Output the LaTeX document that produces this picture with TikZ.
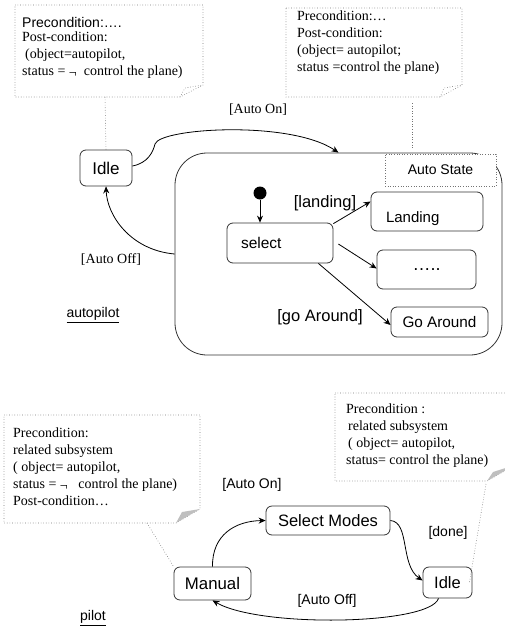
\documentclass[tikz,border=0pt]{standalone}
\usepackage{fontspec}
\setmainfont{Liberation Serif}
\setsansfont{Liberation Sans}
\usetikzlibrary{arrows.meta,calc}
\tikzset{
 st/.style={draw=black!80, line width=0.8pt, rounded corners=6pt, inner sep=0pt},
 lbl/.style={font=\fontsize{14}{17}\selectfont, inner sep=0pt},
 slbl/.style={font=\sffamily\fontsize{14}{17}\selectfont, inner sep=0pt},
 note/.style={draw=black!55, dotted, line width=0.6pt},
 notefold/.style={fill=black!25, draw=none},
 notetext/.style={font=\fontsize{14}{17}\selectfont, align=left, anchor=north west, inner sep=0pt},
 tr/.style={draw=black, line width=0.8pt, -{Stealth[length=7pt,width=6pt]}},
 link/.style={draw=black!55, dotted, line width=0.6pt},
}
\begin{document}
\begin{tikzpicture}[x=1pt,y=-1pt]
\useasboundingbox (0,0) rectangle (505,627);

% ---------- top-left note
\draw[note] (15,5) -- (203,5) -- (203,85) -- (180,97) -- (15,97) -- cycle;
\draw[note] (180,97) -- (185,88) -- (203,85);
\node[notetext] (n1) at (22,17) {{\sffamily Precondition:….}\\[-3pt] Post-condition:\\ \hspace{3pt}(object=autopilot,\\ status = \raisebox{-2pt}{¬} \ control the plane)};

% ---------- top-right note
\draw[note] (286,8) -- (462,8) -- (462,85) -- (440,97) -- (286,97) -- cycle;
\draw[note] (440,97) -- (444,88) -- (462,85);
\node[notetext] (n2) at (297,10.5) {Precondition:…\\ Post-condition:\\ (object= autopilot;\\ status =control the plane)};

% ---------- autopilot machine
\node[st, minimum width=52pt, minimum height=36pt, font=\sffamily\fontsize{17}{18}\selectfont] (idle1) at (106,168) {Idle};
\node[draw=black!80, line width=0.8pt, rounded corners=32pt, minimum width=327pt, minimum height=202pt] (auto) at (338.5,254) {};
\node[draw=black!55, dotted, line width=0.6pt, fill=white, minimum width=111pt, minimum height=32pt, inner sep=0pt, font=\sffamily\fontsize{14}{16}\selectfont] (autolbl) at (440.5,170) {Auto State};

\coordinate (n1b) at (105,97);
\draw[link] (n1b) -- (idle1.north);
\coordinate (n2b) at (412,103);
\draw[link, shorten >=6pt] (n2b) -- (n2b |- autolbl.north);

\draw[tr] ($(idle1.east)+(0,-2)$) .. controls (148,163) and (153,152) .. (155,144) .. controls (160,128) and (290,120) .. (auto.north);
\node[lbl] (lon1) at (258,110) {[Auto On]};
\draw[tr] (auto.west) .. controls (130,250) and (107,215) .. (idle1.south);
\node[lbl] (loff1) at (111,260) {[Auto Off]};
\node[slbl] (autopilotlbl) at (93,315) {\underline{autopilot}};

\node[circle, fill=black, minimum size=13pt, inner sep=0pt] (init) at (260,193) {};
\node[st, minimum width=106pt, minimum height=40pt, text width=78pt, align=left, inner xsep=14pt, font=\sffamily\fontsize{15.5}{17}\selectfont] (select) at (280,243) {select};
\draw[tr] (init) -- (init |- select.north);

\node[st, minimum width=112pt, minimum height=39pt, text width=82pt, align=left, inner xsep=15pt, font=\sffamily\fontsize{15}{17}\selectfont] (landing) at (427,211.5) {\raisebox{-10.5pt}[0pt][0pt]{Landing}};
\node[st, minimum width=99pt, minimum height=39pt, font=\sffamily\fontsize{18}{18}\selectfont] (dots) at (426.5,269.5) {…..};
\node[st, minimum width=97pt, minimum height=30pt, font=\sffamily\fontsize{15.3}{17}\selectfont] (goaround) at (439.5,322) {Go Around};

\draw[tr] ($(select.north east)+(0,1)$) -- ($(landing.west)+(0,-10)$);
\draw[tr] ($(select.east)+(5,1)$) -- ($(dots.west)+(0,-1)$);
\draw[tr] ($(select.south east)+(-15,0)$) -- ($(goaround.west)+(0,3)$);
\node[font=\sffamily\fontsize{16.5}{18}\selectfont, inner sep=0pt] (lland) at (325,203) {[landing]};
\node[font=\sffamily\fontsize{16.5}{18}\selectfont, inner sep=0pt] (lgo) at (320,317) {[go Around]};

% ---------- bottom-left note
\draw[note] (4,415) -- (200,415) -- (200,509) -- (176,523) -- (4,523) -- cycle;
\draw[notefold] (176,523) -- (182,512) -- (200,509) -- cycle;
\node[notetext] (n3) at (13,427.5) {Precondition:\\ related subsystem\\ ( object= autopilot,\\ status = \raisebox{-2pt}{¬}\ \ \ control the plane)\\ Post-condition…};

% ---------- bottom-right note
\draw[note] (335,393) -- (515,393) -- (515,465) -- (487,481) -- (335,481) -- cycle;
\draw[notefold] (487,481) -- (493,472) -- (515,465) -- cycle;
\node[notetext] (n4) at (346,403.5) {Precondition :\\ \hspace{2pt}related subsystem\\ \hspace{2pt}( object= autopilot,\\ status= control the plane)};

% ---------- pilot machine
\node[st, minimum width=77pt, minimum height=33pt, font=\sffamily\fontsize{16.8}{18}\selectfont] (manual) at (212.5,583.5) {Manual};
\node[st, minimum width=124pt, minimum height=29pt, font=\sffamily\fontsize{16.5}{18}\selectfont] (selmodes) at (328,520.5) {Select Modes};
\node[st, minimum width=49pt, minimum height=31pt, font=\sffamily\fontsize{16.5}{18}\selectfont] (idle2) at (447.5,582.5) {Idle};

\coordinate (n3b) at (147,523);
\draw[link] (n3b) -- (manual.north west);
\coordinate (n4b) at (486,484);
\draw[link] (n4b) -- ($(idle2.east)+(-3,0)$);

\draw[tr] (manual.north) .. controls (212,535) and (235,521) .. (selmodes.west);
\draw[tr] (selmodes.east) .. controls (410,522) and (400,565) .. ($(idle2.west)+(0,-2)$);
\draw[tr] ($(idle2.south)+(-9,0)$) .. controls (430,625) and (260,628) .. (manual.south);
\node[slbl] (lon2) at (252,485) {[Auto On]};
\node[slbl] (ldone) at (448,533) {[done]};
\node[slbl] (loff2) at (327,601) {[Auto Off]};
\node[slbl] (pilotlbl) at (93,618) {\underline{pilot}};
\end{tikzpicture}
\end{document}
